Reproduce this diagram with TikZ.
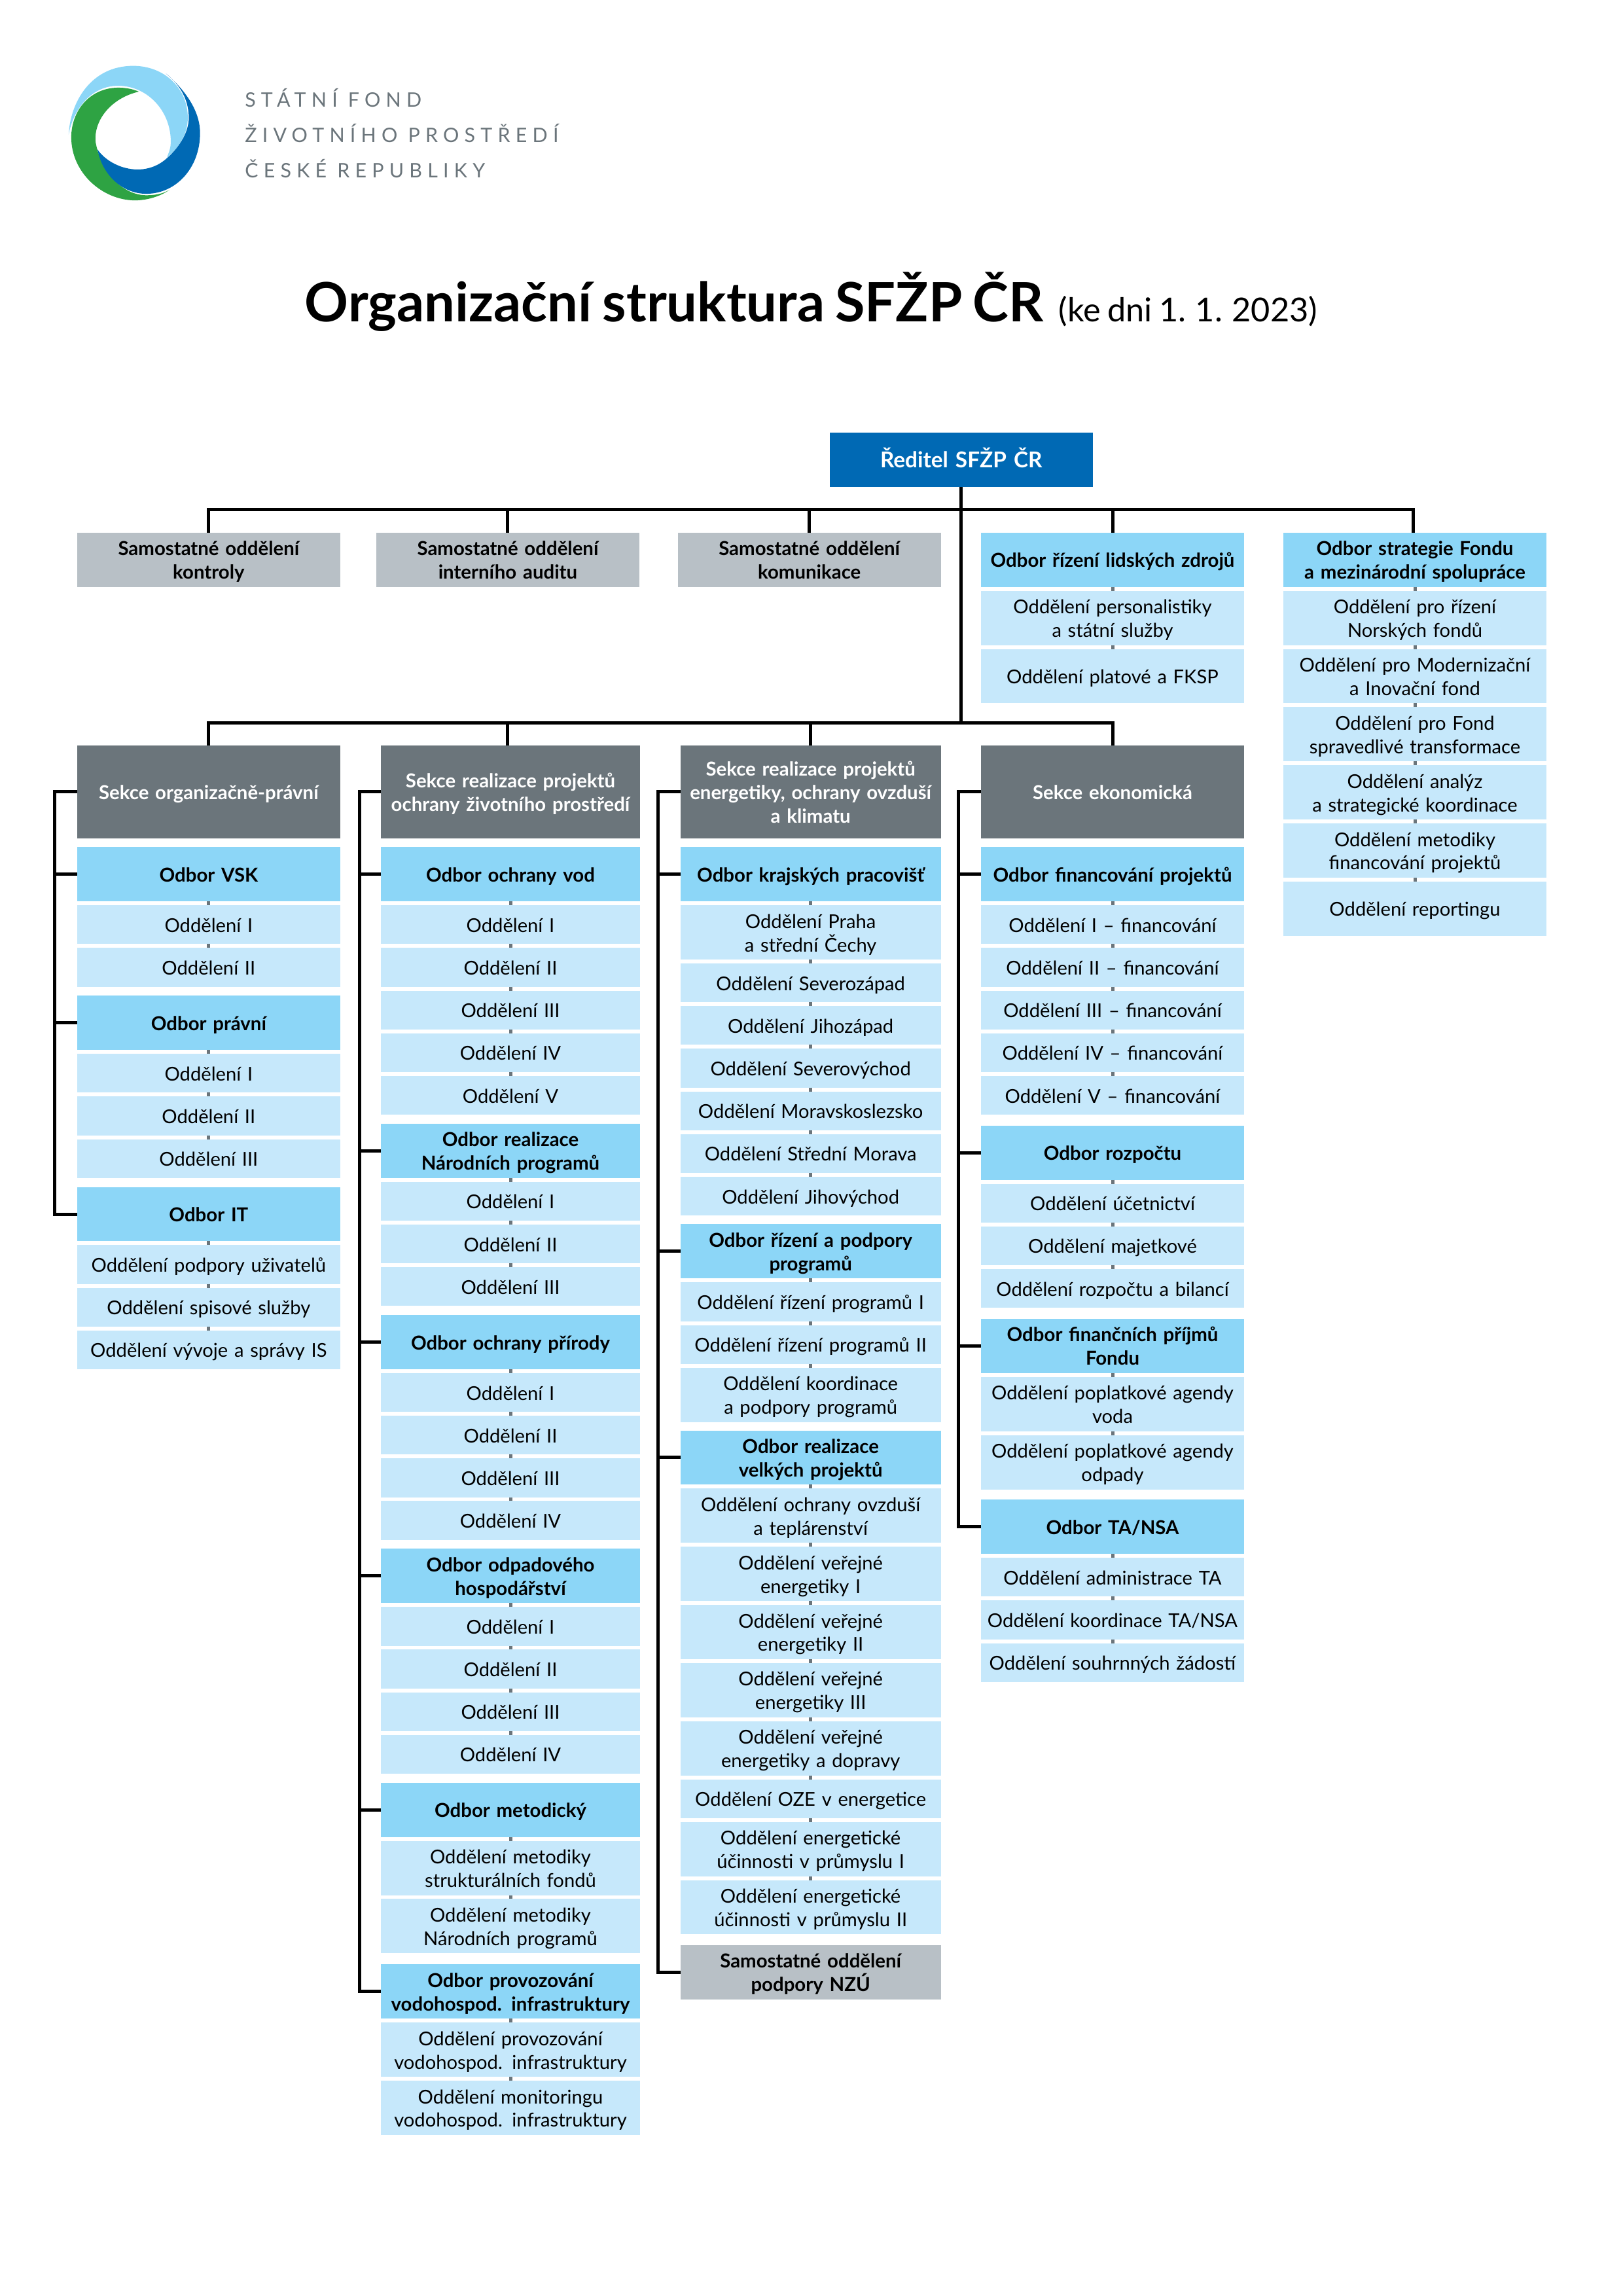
\documentclass[tikz,border=0pt]{standalone}
\usepackage{fontspec}
\setmainfont[WordSpace=0.8]{Lato}
\newfontfamily\logofont[LetterSpace=27]{Lato}
\definecolor{modrava}{RGB}{0, 105, 180}
\definecolor{svetla}{RGB}{140, 214, 247}
\definecolor{bleda}{RGB}{198, 232, 251}
\definecolor{seda}{RGB}{184, 192, 198}
\definecolor{tmava}{RGB}{107, 117, 123}
\definecolor{zelena}{RGB}{46, 163, 67}
\usetikzlibrary{positioning}
\tikzset{
  box_w/.style = {text width=96.5pt},
  orgnode/.style = {align=center, inner sep=0pt, outer sep=0pt, box_w,
    font=\fontsize{7}{8.6}\selectfont,
    execute at begin node={\lineskiplimit=-5pt\rule{0pt}{8.1pt}}, execute at end node=\strut},
  org_line/.style = {black, line width=1.2pt},
  org_stub/.style = {draw=tmava, line width=1.2pt},
  org_sek/.style = {orgnode, fill=tmava, text=white, minimum height=34.2pt,
    font=\fontsize{7.05}{8.6}\selectfont\bfseries},% sekce
  org_sam/.style = {orgnode, fill=seda, minimum height=19.9pt,
    font=\fontsize{7.05}{8.6}\selectfont\bfseries},% samostatne oddeleni
  org_odbor/.style = {orgnode, fill=svetla, minimum height=19.9pt,
    font=\fontsize{7.05}{8.6}\selectfont\bfseries},% odbor
  org_leaf/.style = {orgnode, fill=bleda, below=1.42pt of #1,
    append after command={(#1.south) edge[org_stub] (\tikzlastnode.north)}},
  org_odd/.style = {org_leaf=#1, minimum height=14.22pt},% oddeleni, jeden radek
  org_dbl/.style = {org_leaf=#1, minimum height=19.9pt},% oddeleni, dva radky
}

\begin{document}
\begin{tikzpicture}[x=0.5367pt, y=-0.5367pt]
\useasboundingbox (0,0) rectangle (1108.9,1568.7);

% logo
\fill [svetla] (46.9,92) .. controls (48,70) and (62,45) .. (91,45)
  .. controls (112,45) and (128.3,60) .. (128.3,80.5)
  .. controls (128.3,92) and (122,101) .. (114,107.6)
  .. controls (116,103) and (116.7,100) .. (116.7,96.9)
  .. controls (116.7,75) and (100,58.6) .. (80.8,58.6)
  .. controls (62,58.6) and (50,75) .. (46.9,92);
\fill [zelena] (94.9,62.6) .. controls (90,60.5) and (85,59.9) .. (80.8,59.9)
  .. controls (62,59.9) and (48.7,75) .. (48.7,93.9)
  .. controls (48.7,118) and (70,136.9) .. (92.3,136.9)
  .. controls (100,136.9) and (109,134.5) .. (115.9,129.7)
  .. controls (111,132.5) and (106,133.4) .. (100,133.4)
  .. controls (84,133.4) and (69,118) .. (65.3,96.9)
  .. controls (64,82) and (76,67) .. (94.9,62.6);
\fill [modrava] (113.4,50.2) .. controls (127,62) and (136.7,76) .. (136.7,90.9)
  .. controls (136.7,115) and (120,132.4) .. (100,132.4)
  .. controls (84,132.4) and (70,120) .. (66.6,102.1)
  .. controls (72,110) and (83,115.8) .. (94.1,115.8)
  .. controls (103,115.8) and (110,112) .. (114.6,107.6)
  .. controls (123,100) and (129,90) .. (129,80.5)
  .. controls (129,68) and (123,58) .. (113.4,50.2);
\node [anchor=west, inner sep=0pt, tmava, font=\fontsize{7.3}{8.6}\logofont] (logo_a) at (167,67) {STÁTNÍ FOND};
\node [anchor=west, inner sep=0pt, tmava, font=\fontsize{7.3}{8.6}\logofont] (logo_b) at (167,91) {ŽIVOTNÍHO PROSTŘEDÍ};
\node [anchor=west, inner sep=0pt, tmava, font=\fontsize{7.3}{8.6}\logofont] (logo_c) at (167,115) {ČESKÉ REPUBLIKY};

% nadpis
\node [anchor=base west, inner sep=0pt, font=\fontsize{19.9}{22}\selectfont\bfseries] (nadpis) at (208,220) {Organizační struktura SFŽP ČR};
\node [anchor=base west, inner sep=0pt, font=\fontsize{12.1}{14}\selectfont] (datum) at (723,220) {(ke dni 1. 1. 2023)};

% reditel a horni rada
\node [orgnode, fill=modrava, text=white, minimum height=19.9pt, font=\fontsize{8}{8.6}\selectfont\bfseries] (reditel) at (656.8,314.3) {Ředitel SFŽP ČR};
\node [org_sam] (sam_kontrola) at (142.6,382.5) {Samostatné oddělení\\kontroly};
\node [org_sam] (sam_audit) at (347,382.5) {Samostatné oddělení\\interního auditu};
\node [org_sam] (sam_komunikace) at (553,382.5) {Samostatné oddělení\\komunikace};

\node [org_odbor] (odb_lz) at (760.2,382.5) {Odbor řízení lidských zdrojů};
\node [org_dbl=odb_lz] (lz_1) {Oddělení personalistiky\\a státní služby};
\node [org_dbl=lz_1] (lz_2) {Oddělení platové a FKSP};

\node [org_odbor] (odb_str) at (966.8,382.5) {Odbor strategie Fondu\\a mezinárodní spolupráce};
\node [org_dbl=odb_str] (str_1) {Oddělení pro řízení\\Norských fondů};
\node [org_dbl=str_1] (str_2) {Oddělení pro Modernizační\\a Inovační fond};
\node [org_dbl=str_2] (str_3) {Oddělení pro Fond\\spravedlivé transformace};
\node [org_dbl=str_3] (str_4) {Oddělení analýz\\a strategické koordinace};
\node [org_dbl=str_4] (str_5) {Oddělení metodiky\\financování projektů};
\node [org_dbl=str_5] (str_6) {Oddělení reportingu};

% sekce organizacne-pravni
\node [org_sek] (sek_a) at (142.6,541) {Sekce organizačně-právní};
\node [org_odbor, below=3.2pt of sek_a] (odb_vsk) {Odbor VSK};
\node [org_odd=odb_vsk] (vsk_1) {Oddělení I};
\node [org_odd=vsk_1] (vsk_2) {Oddělení II};
\node [org_odbor, below=3.3pt of vsk_2] (odb_pravni) {Odbor právní};
\node [org_odd=odb_pravni] (pra_1) {Oddělení I};
\node [org_odd=pra_1] (pra_2) {Oddělení II};
\node [org_odd=pra_2] (pra_3) {Oddělení III};
\node [org_odbor, below=3.3pt of pra_3] (odb_it) {Odbor IT};
\node [org_odd=odb_it] (it_1) {Oddělení podpory uživatelů};
\node [org_odd=it_1] (it_2) {Oddělení spisové služby};
\node [org_odd=it_2] (it_3) {Oddělení vývoje a správy IS};

% sekce realizace projektu ochrany zivotniho prostredi
\begin{scope}[box_w/.style={text width=95pt}]
\node [org_sek] (sek_b) at (348.8,541) {Sekce realizace projektů\\ochrany životního prostředí};
\node [org_odbor, below=3.2pt of sek_b] (odb_vod) {Odbor ochrany vod};
\node [org_odd=odb_vod] (vod_1) {Oddělení I};
\node [org_odd=vod_1] (vod_2) {Oddělení II};
\node [org_odd=vod_2] (vod_3) {Oddělení III};
\node [org_odd=vod_3] (vod_4) {Oddělení IV};
\node [org_odd=vod_4] (vod_5) {Oddělení V};
\node [org_odbor, below=3.3pt of vod_5] (odb_nar) {Odbor realizace\\Národních programů};
\node [org_odd=odb_nar] (nar_1) {Oddělení I};
\node [org_odd=nar_1] (nar_2) {Oddělení II};
\node [org_odd=nar_2] (nar_3) {Oddělení III};
\node [org_odbor, below=3.3pt of nar_3] (odb_pri) {Odbor ochrany přírody};
\node [org_odd=odb_pri] (pri_1) {Oddělení I};
\node [org_odd=pri_1] (pri_2) {Oddělení II};
\node [org_odd=pri_2] (pri_3) {Oddělení III};
\node [org_odd=pri_3] (pri_4) {Oddělení IV};
\node [org_odbor, below=3.3pt of pri_4] (odb_odp) {Odbor odpadového\\hospodářství};
\node [org_odd=odb_odp] (odp_1) {Oddělení I};
\node [org_odd=odp_1] (odp_2) {Oddělení II};
\node [org_odd=odp_2] (odp_3) {Oddělení III};
\node [org_odd=odp_3] (odp_4) {Oddělení IV};
\node [org_odbor, below=3.3pt of odp_4] (odb_met) {Odbor metodický};
\node [org_dbl=odb_met] (met_1) {Oddělení metodiky\\strukturálních fondů};
\node [org_dbl=met_1] (met_2) {Oddělení metodiky\\Národních programů};
\node [org_odbor, below=4.1pt of met_2] (odb_pro) {Odbor provozování\\vodohospod. infrastruktury};
\node [org_dbl=odb_pro] (pro_1) {Oddělení provozování\\vodohospod. infrastruktury};
\node [org_dbl=pro_1] (pro_2) {Oddělení monitoringu\\vodohospod. infrastruktury};
\end{scope}

% sekce realizace projektu energetiky
\begin{scope}[box_w/.style={text width=95.5pt}]
\node [org_sek] (sek_c) at (553.9,541) {Sekce realizace projektů\\energetiky, ochrany ovzduší\\a klimatu};
\node [org_odbor, below=3.2pt of sek_c] (odb_kra) {Odbor krajských pracovišť};
\node [org_dbl=odb_kra] (kra_1) {Oddělení Praha\\a střední Čechy};
\node [org_odd=kra_1] (kra_2) {Oddělení Severozápad};
\node [org_odd=kra_2] (kra_3) {Oddělení Jihozápad};
\node [org_odd=kra_3] (kra_4) {Oddělení Severovýchod};
\node [org_odd=kra_4] (kra_5) {Oddělení Moravskoslezsko};
\node [org_odd=kra_5] (kra_6) {Oddělení Střední Morava};
\node [org_odd=kra_6] (kra_7) {Oddělení Jihovýchod};
\node [org_odbor, below=3.2pt of kra_7] (odb_pod) {Odbor řízení a podpory\\programů};
\node [org_odd=odb_pod] (pod_1) {Oddělení řízení programů I};
\node [org_odd=pod_1] (pod_2) {Oddělení řízení programů II};
\node [org_dbl=pod_2] (pod_3) {Oddělení koordinace\\a podpory programů};
\node [org_odbor, below=3.1pt of pod_3] (odb_vel) {Odbor realizace\\velkých projektů};
\node [org_dbl=odb_vel] (vel_1) {Oddělení ochrany ovzduší\\a teplárenství};
\node [org_dbl=vel_1] (vel_2) {Oddělení veřejné\\energetiky I};
\node [org_dbl=vel_2] (vel_3) {Oddělení veřejné\\energetiky II};
\node [org_dbl=vel_3] (vel_4) {Oddělení veřejné\\energetiky III};
\node [org_dbl=vel_4] (vel_5) {Oddělení veřejné\\energetiky a dopravy};
\node [org_odd=vel_5] (vel_6) {Oddělení OZE v energetice};
\node [org_dbl=vel_6] (vel_7) {Oddělení energetické\\účinnosti v průmyslu I};
\node [org_dbl=vel_7] (vel_8) {Oddělení energetické\\účinnosti v průmyslu II};
\node [org_sam, below=3.9pt of vel_8] (sam_nzu) {Samostatné oddělení\\podpory NZÚ};
\end{scope}

% sekce ekonomicka
\node [org_sek] (sek_d) at (760.2,541) {Sekce ekonomická};
\node [org_odbor, below=3.2pt of sek_d] (odb_fin) {Odbor financování projektů};
\node [org_odd=odb_fin] (fin_1) {Oddělení I -- financování};
\node [org_odd=fin_1] (fin_2) {Oddělení II -- financování};
\node [org_odd=fin_2] (fin_3) {Oddělení III -- financování};
\node [org_odd=fin_3] (fin_4) {Oddělení IV -- financování};
\node [org_odd=fin_4] (fin_5) {Oddělení V -- financování};
\node [org_odbor, below=4pt of fin_5] (odb_roz) {Odbor rozpočtu};
\node [org_odd=odb_roz] (roz_1) {Oddělení účetnictví};
\node [org_odd=roz_1] (roz_2) {Oddělení majetkové};
\node [org_odd=roz_2] (roz_3) {Oddělení rozpočtu a bilancí};
\node [org_odbor, below=4pt of roz_3] (odb_pri2) {Odbor finančních příjmů\\Fondu};
\node [org_dbl=odb_pri2] (pri2_1) {Oddělení poplatkové agendy\\voda};
\node [org_dbl=pri2_1] (pri2_2) {Oddělení poplatkové agendy\\odpady};
\node [org_odbor, below=3.8pt of pri2_2] (odb_ta) {Odbor TA/NSA};
\node [org_odd=odb_ta] (ta_1) {Oddělení administrace TA};
\node [org_odd=ta_1] (ta_2) {Oddělení koordinace TA/NSA};
\node [org_odd=ta_2] (ta_3) {Oddělení souhrnných žádostí};

% spojnice
\coordinate (hub_horni) at (656.8,348);
\coordinate (hub_dolni) at (656.8,494);
\draw [org_line] (reditel.south) -- (hub_dolni);
\draw [org_line] (hub_horni) -| (sam_kontrola.north);
\draw [org_line] (hub_horni) -| (sam_audit.north);
\draw [org_line] (hub_horni) -| (sam_komunikace.north);
\draw [org_line] (hub_horni) -| (odb_lz.north);
\draw [org_line] (hub_horni) -| ([xshift=-0.5pt]odb_str.north);
\draw [org_line] (hub_dolni) -| (sek_a.north);
\draw [org_line] (hub_dolni) -| ([xshift=-1pt]sek_b.north);
\draw [org_line] (hub_dolni) -| (sek_c.north);
\draw [org_line] (hub_dolni) -| (sek_d.north);

\coordinate [left=8.3pt of sek_a] (trunk_a);
\draw [org_line] (sek_a.west) -- (trunk_a) |- (odb_it.west);
\draw [org_line] (trunk_a) |- (odb_vsk.west);
\draw [org_line] (trunk_a) |- (odb_pravni.west);

\coordinate [left=7.9pt of sek_b] (trunk_b);
\draw [org_line] (sek_b.west) -- (trunk_b) |- (odb_pro.west);
\draw [org_line] (trunk_b) |- (odb_vod.west);
\draw [org_line] (trunk_b) |- (odb_nar.west);
\draw [org_line] (trunk_b) |- (odb_pri.west);
\draw [org_line] (trunk_b) |- (odb_odp.west);
\draw [org_line] (trunk_b) |- (odb_met.west);

\coordinate [left=8.2pt of sek_c] (trunk_c);
\draw [org_line] (sek_c.west) -- (trunk_c) |- (sam_nzu.west);
\draw [org_line] (trunk_c) |- (odb_kra.west);
\draw [org_line] (trunk_c) |- (odb_pod.west);
\draw [org_line] (trunk_c) |- (odb_vel.west);

\coordinate [left=8.2pt of sek_d] (trunk_d);
\draw [org_line] (sek_d.west) -- (trunk_d) |- (odb_ta.west);
\draw [org_line] (trunk_d) |- (odb_fin.west);
\draw [org_line] (trunk_d) |- (odb_roz.west);
\draw [org_line] (trunk_d) |- (odb_pri2.west);
\end{tikzpicture}
\end{document}
